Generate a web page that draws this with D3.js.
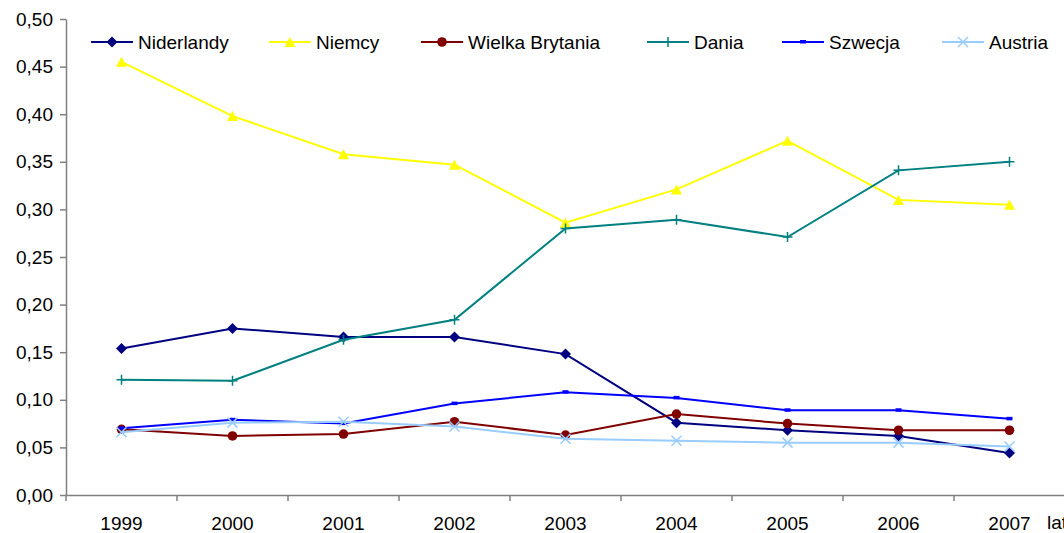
<!DOCTYPE html>
<html><head><meta charset="utf-8">
<script src="https://cdn.jsdelivr.net/npm/d3@7"></script>
<style>
body{margin:0;background:#fff;}
text{font-family:"Liberation Sans",Arial,sans-serif;}
</style></head>
<body><svg id="c" width="1064" height="533"></svg>
<script>
const years = ["1999","2000","2001","2002","2003","2004","2005","2006","2007"];
const yTicks = [0,0.05,0.10,0.15,0.20,0.25,0.30,0.35,0.40,0.45,0.50];
const seriesNames = ["Niderlandy","Niemcy","Wielka Brytania","Dania","Szwecja","Austria"];
const niderlandy = [0.154,0.175,0.166,0.166,0.148,0.076,0.068,0.062,0.044];
const niemcy = [0.455,0.398,0.358,0.347,0.286,0.321,0.372,0.310,0.305];
const wielkaBrytania = [0.069,0.062,0.064,0.077,0.063,0.085,0.075,0.068,0.068];
const dania = [0.121,0.120,0.163,0.184,0.280,0.289,0.271,0.341,0.350];
const szwecja = [0.070,0.079,0.075,0.096,0.108,0.102,0.089,0.089,0.080];
const austria = [0.066,0.076,0.077,0.072,0.059,0.057,0.055,0.055,0.051];
const xTitle = "lata";

const seriesValues = [niderlandy,niemcy,wielkaBrytania,dania,szwecja,austria];
const colors = ["#000080","#FFFF00","#800000","#008080","#0000FF","#99CCFF"];
const markers = ["diamond","triangle","circle","plus","rect","cross"];

const svg = d3.select("#c");
const mLeft = 66, mRight = 1065, mTop = 19, mBottom = 495;
const x = d3.scaleBand().domain(years).range([mLeft, mRight]);
const y = d3.scaleLinear().domain([0,0.5]).range([mBottom, mTop]);
const fmt = d => d3.format(".2f")(d).replace(".", ",");

// y axis
const ya = svg.append("g").attr("transform",`translate(${mLeft},0)`)
  .call(d3.axisLeft(y).tickValues(yTicks).tickFormat(fmt).tickSize(6).tickSizeOuter(0));
ya.select(".domain").attr("stroke","#808080").attr("stroke-width",1.5);
ya.selectAll(".tick line").attr("stroke","#808080").attr("stroke-width",1.5);
ya.selectAll(".tick text").attr("x",-13).attr("font-size","19px").attr("fill","#000")
  .attr("font-family","Liberation Sans, Arial, sans-serif");

// x axis
const xa = svg.append("g").attr("transform",`translate(0,${mBottom})`)
  .call(d3.axisBottom(x).tickSize(0).tickSizeOuter(0));
xa.select(".domain").attr("stroke","#808080").attr("stroke-width",1.5);
xa.selectAll(".tick text").attr("y",22).attr("font-size","19px").attr("fill","#000")
  .attr("font-family","Liberation Sans, Arial, sans-serif");
// band boundary ticks
svg.append("g").selectAll("line").data(years).join("line")
  .attr("x1",d=>x(d)).attr("x2",d=>x(d))
  .attr("y1",mBottom).attr("y2",mBottom+6)
  .attr("stroke","#808080").attr("stroke-width",1.5);
svg.append("text").attr("x",1047).attr("y",mBottom+34).attr("font-size","19px").text(xTitle);

const cx = d => x(d) + x.bandwidth()/2;

function drawMarker(g, type, color, px, py){
  if(type==="diamond"){
    g.append("path").attr("d",`M${px},${py-5.5}L${px+5.5},${py}L${px},${py+5.5}L${px-5.5},${py}Z`).attr("fill",color);
  } else if(type==="triangle"){
    g.append("path").attr("d",`M${px},${py-5}L${px+5.5},${py+5}L${px-5.5},${py+5}Z`).attr("fill",color);
  } else if(type==="circle"){
    g.append("circle").attr("cx",px).attr("cy",py).attr("r",4.8).attr("fill",color);
  } else if(type==="plus"){
    g.append("path").attr("d",`M${px-5},${py}H${px+5}M${px},${py-5}V${py+5}`).attr("stroke",color).attr("stroke-width",1.5).attr("fill","none");
  } else if(type==="rect"){
    g.append("rect").attr("x",px-3).attr("y",py-2).attr("width",6).attr("height",3.5).attr("fill",color);
  } else if(type==="cross"){
    g.append("path").attr("d",`M${px-5},${py-5}L${px+5},${py+5}M${px+5},${py-5}L${px-5},${py+5}`).attr("stroke",color).attr("stroke-width",1.5).attr("fill","none");
  }
}

const line = d3.line().x((d,i)=>cx(years[i])).y(d=>y(d));
seriesValues.forEach((vals,k)=>{
  const g = svg.append("g");
  g.append("path").attr("d",line(vals)).attr("fill","none").attr("stroke",colors[k]).attr("stroke-width",2);
  vals.forEach((v,i)=>drawMarker(g, markers[k], colors[k], cx(years[i]), y(v)));
});

// legend
const legX = [91,269,421,647,782,942];
const legY = 42;
seriesNames.forEach((n,k)=>{
  const g = svg.append("g");
  g.append("line").attr("x1",legX[k]).attr("x2",legX[k]+42).attr("y1",legY).attr("y2",legY).attr("stroke",colors[k]).attr("stroke-width",2);
  drawMarker(g, markers[k], colors[k], legX[k]+21, legY);
  g.append("text").attr("x",legX[k]+47).attr("y",legY+7).attr("font-size","19px").attr("fill","#000").text(n);
});
</script></body></html>
